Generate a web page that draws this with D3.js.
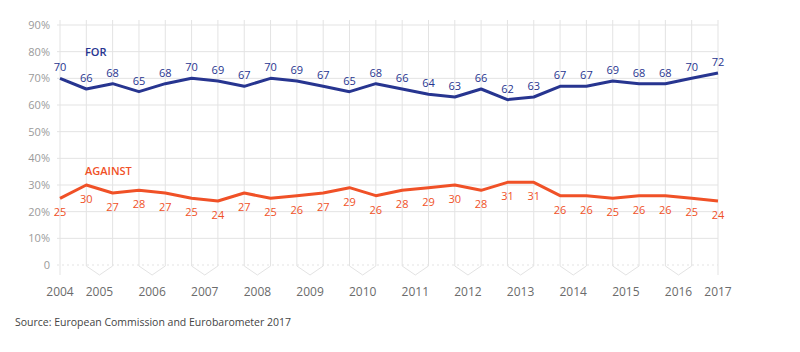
<!DOCTYPE html>
<html>
<head>
<meta charset="utf-8">
<script src="https://cdn.jsdelivr.net/npm/d3@7"></script>
<style>
  body { margin: 0; background: #fff; }
  text { font-family: "Open Sans", "Noto Sans", sans-serif; }
</style>
</head>
<body>
<div id="chart"></div>
<script>
// one entry per survey wave (autumn 2004 ... spring 2017)
var waveYear = ["2004",
    "2005", "2005", "2006", "2006", "2007", "2007", "2008", "2008",
    "2009", "2009", "2010", "2010", "2011", "2011", "2012", "2012",
    "2013", "2013", "2014", "2014", "2015", "2015", "2016", "2016",
    "2017"];

var forValues = [70, 66, 68, 65, 68, 70, 69, 67, 70, 69, 67, 65, 68,
    66, 64, 63, 66, 62, 63, 67, 67, 69, 68, 68, 70, 72];

var againstValues = [25, 30, 27, 28, 27, 25, 24, 27, 25, 26, 27, 29, 26,
    28, 29, 30, 28, 31, 31, 26, 26, 25, 26, 26, 25, 24];

var yTicks = [0, 10, 20, 30, 40, 50, 60, 70, 80, 90];

var width = 800, height = 352;

var svg = d3.select("#chart").append("svg")
    .attr("width", width)
    .attr("height", height);

var x = d3.scaleLinear()
    .domain([0, waveYear.length - 1])
    .range([60, 718]);

var y = d3.scaleLinear()
    .domain([0, 90])
    .range([265, 25]);

var gridColor = "#e3e3e3";

//Horizontal grid
svg.append("g").selectAll("line")
    .data(yTicks)
    .enter()
    .append("line")
    .attr("x1", 57)
    .attr("x2", x.range()[1])
    .attr("y1", function (d) { return y(d); })
    .attr("y2", function (d) { return y(d); })
    .attr("stroke", gridColor)
    .attr("stroke-width", 1)
    .attr("stroke-dasharray", function (d) { return d == 0 ? "2,3" : null; });

//Y labels
svg.append("g").selectAll("text")
    .data(yTicks)
    .enter()
    .append("text")
    .attr("x", 50)
    .attr("y", function (d) { return y(d); })
    .attr("dy", "0.35em")
    .attr("text-anchor", "end")
    .attr("fill", "#9a9a9a")
    .style("font-size", "11px")
    .text(function (d) { return d == 0 ? "0" : d + "%"; });

//Group waves by year
var years = d3.groups(waveYear.map(function (yr, i) { return { year: yr, i: i }; }),
    function (d) { return d.year; });

var bottom = y(0) + 1, tip = y(0) + 10;

//Vertical grid + year brackets
var brackets = svg.append("g")
    .attr("fill", "none")
    .attr("stroke", gridColor)
    .attr("stroke-width", 1);

years.forEach(function (g) {
    var idx = g[1].map(function (d) { return d.i; });
    var mid = d3.mean(idx, function (i) { return x(i); });
    var pts;
    if (idx.length == 1) {
        pts = [[x(idx[0]), 20], [x(idx[0]), tip]];
        brackets.append("path").attr("d", d3.line()(pts));
    } else {
        pts = [[x(idx[0]), 20], [x(idx[0]), bottom], [mid, tip],
            [x(idx[1]), bottom], [x(idx[1]), 20]];
        brackets.append("path").attr("d", d3.line()(pts));
    }
    svg.append("text")
        .attr("x", mid)
        .attr("y", 292)
        .attr("dy", "0.35em")
        .attr("text-anchor", "middle")
        .attr("fill", "#6b6b6b")
        .style("font-size", "12px")
        .text(g[0]);
});

var line = d3.line()
    .x(function (d, i) { return x(i); })
    .y(function (d) { return y(d); });

var series = [
    { name: "FOR", values: forValues, color: "#273590", labelY: 52, off: -11 },
    { name: "AGAINST", values: againstValues, color: "#f05127", labelY: 171, off: 14 }
];

series.forEach(function (s) {
    svg.append("path")
        .datum(s.values)
        .attr("d", line)
        .attr("fill", "none")
        .attr("stroke", s.color)
        .attr("stroke-width", 3)
        .attr("stroke-linejoin", "round");

    svg.append("g").selectAll("text")
        .data(s.values)
        .enter()
        .append("text")
        .attr("x", function (d, i) { return x(i); })
        .attr("y", function (d) { return y(d) + s.off; })
        .attr("dy", "0.35em")
        .attr("text-anchor", "middle")
        .attr("fill", s.color)
        .style("font-size", "11px")
        .text(function (d) { return d; });

    svg.append("text")
        .attr("x", 85)
        .attr("y", s.labelY)
        .attr("dy", "0.35em")
        .attr("fill", s.color)
        .style("font-size", "11px")
        .style("font-weight", "600")
        .text(s.name);
});

svg.append("text")
    .attr("x", 15)
    .attr("y", 322)
    .attr("dy", "0.35em")
    .attr("fill", "#444")
    .style("font-size", "10.5px")
    .text("Source: European Commission and Eurobarometer 2017");
</script>
</body>
</html>
